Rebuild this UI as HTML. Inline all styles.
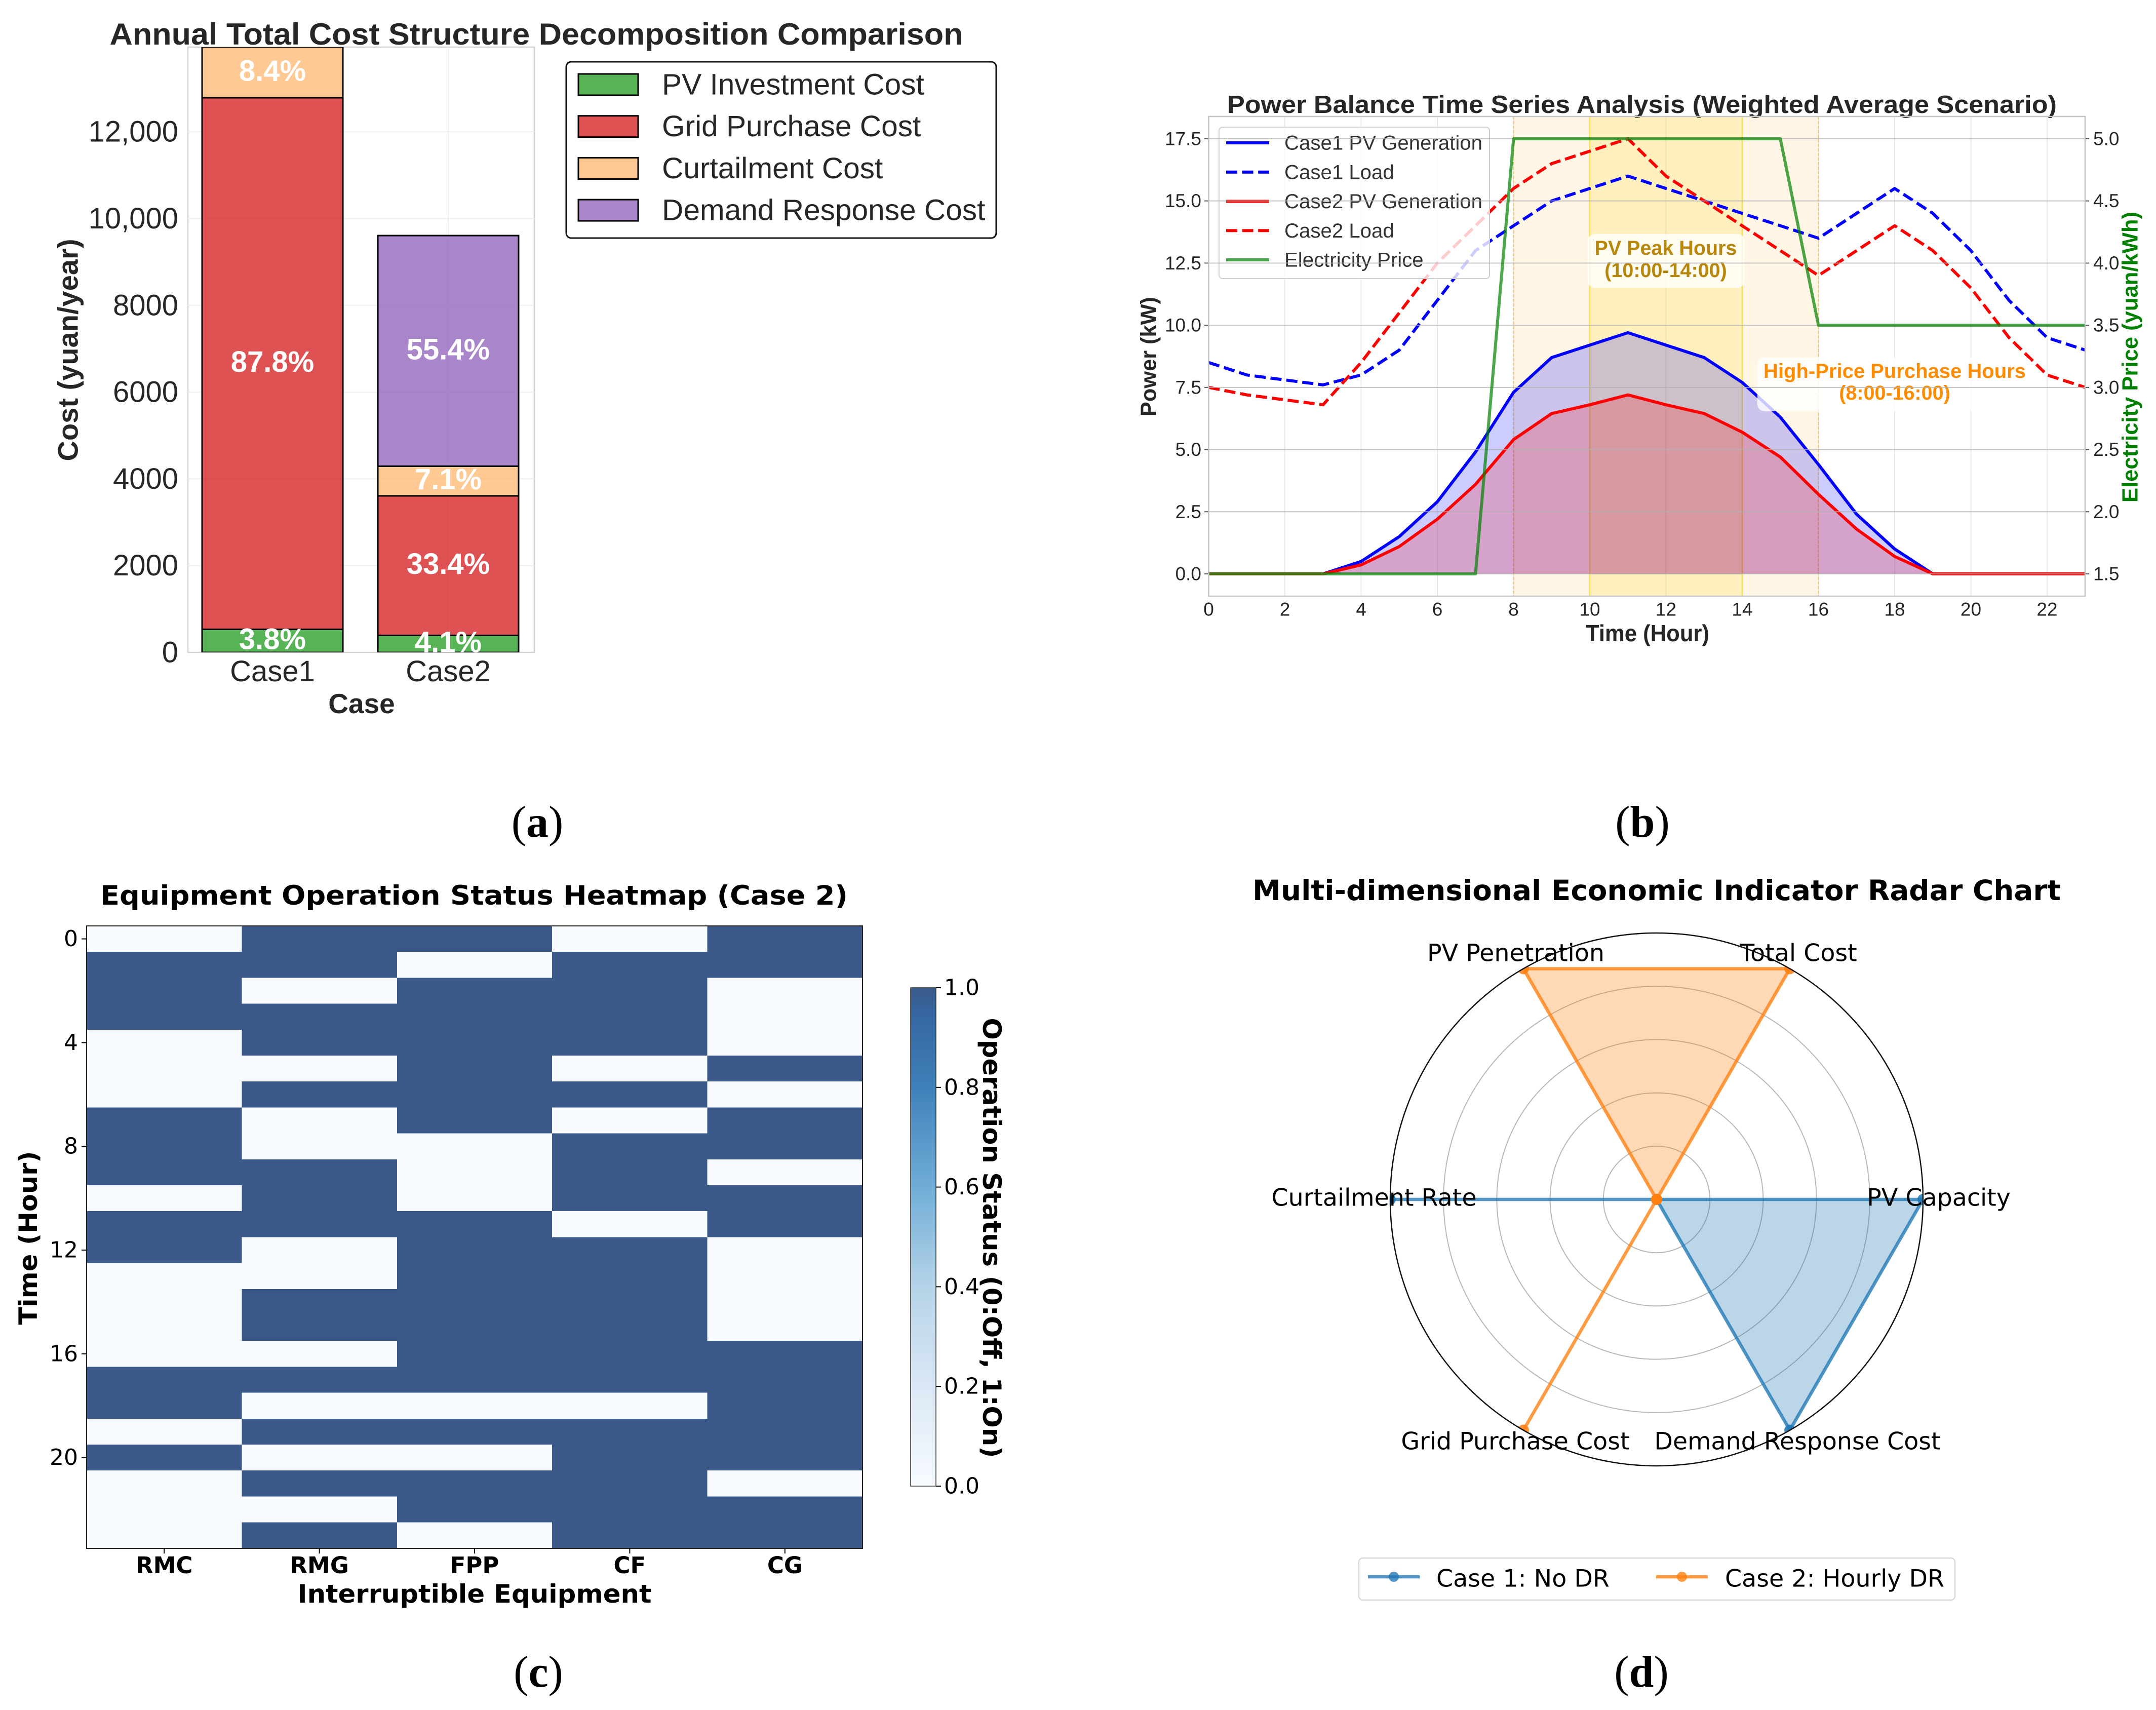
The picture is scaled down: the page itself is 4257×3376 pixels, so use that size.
<!DOCTYPE html>
<html lang="en">
<head>
<meta charset="utf-8">
<title>Four panel energy economics chart</title>
<style>
html,body{margin:0;padding:0;background:#fff;width:4257px;height:3376px;overflow:hidden}
svg{display:block}
.sans{font-family:"Liberation Sans",sans-serif}
.dv{font-family:"DejaVu Sans",sans-serif}
.serif{font-family:"Liberation Serif",serif}
</style>
</head>
<body>
<svg id="figure" xmlns="http://www.w3.org/2000/svg" width="4257" height="3376" viewBox="0 0 4257 3376">
<defs>
<clipPath id="clipA"><rect x="371" y="93" width="684" height="1195"/></clipPath>
<clipPath id="clipD"><circle cx="3271" cy="2368" r="526"/></clipPath>
<linearGradient id="cbGrad" x1="0" y1="1" x2="0" y2="0">
<stop offset="0" stop-color="#f7fbff"/><stop offset="0.2" stop-color="#dbe8f5"/><stop offset="0.4" stop-color="#b5d3e8"/><stop offset="0.6" stop-color="#6fadd6"/><stop offset="0.8" stop-color="#3f80ba"/><stop offset="0.95" stop-color="#3566a0"/><stop offset="1" stop-color="#3b5a8a"/>
</linearGradient>
</defs>
<rect x="0" y="0" width="4257" height="3376" fill="#fff"/>

<g id="panelA" class="sans">
<text x="1059" y="88" font-size="60" font-weight="bold" fill="#262626" text-anchor="middle" textLength="1685" lengthAdjust="spacingAndGlyphs">Annual Total Cost Structure Decomposition Comparison</text>
<text x="714" y="1408" font-size="55" font-weight="bold" fill="#262626" text-anchor="middle">Case</text>
<text transform="translate(134 691) rotate(-90)" font-size="56" font-weight="bold" fill="#262626" text-anchor="middle" dominant-baseline="central" textLength="439" lengthAdjust="spacingAndGlyphs">Cost (yuan/year)</text>
</g>
<g id="panelB" class="sans">
<text x="3242" y="223" font-size="49" font-weight="bold" fill="#262626" text-anchor="middle" textLength="1638" lengthAdjust="spacingAndGlyphs">Power Balance Time Series Analysis (Weighted Average Scenario)</text>
<text x="3131" y="1266" font-size="46" font-weight="bold" fill="#262626" textLength="244" lengthAdjust="spacingAndGlyphs">Time (Hour)</text>
<text transform="translate(2268 822) rotate(-90)" font-size="44" font-weight="bold" fill="#262626" dominant-baseline="central" textLength="236" lengthAdjust="spacingAndGlyphs">Power (kW)</text>
<text transform="translate(4206 992) rotate(-90)" font-size="44" font-weight="bold" fill="#008000" dominant-baseline="central" textLength="574" lengthAdjust="spacingAndGlyphs">Electricity Price (yuan/kWh)</text>
</g>
<g id="panelC" class="dv">
<text x="936" y="1786" font-size="53" font-weight="bold" fill="#000" text-anchor="middle" textLength="1476" lengthAdjust="spacingAndGlyphs">Equipment Operation Status Heatmap (Case 2)</text>
<text x="937" y="3164" font-size="50" font-weight="bold" fill="#000" text-anchor="middle" textLength="699" lengthAdjust="spacingAndGlyphs">Interruptible Equipment</text>
<text transform="translate(56 2444) rotate(-90)" font-size="50" font-weight="bold" fill="#000" text-anchor="middle" dominant-baseline="central" textLength="343" lengthAdjust="spacingAndGlyphs">Time (Hour)</text>
</g>
<g id="panelD" class="dv">
<text x="3271" y="1777" font-size="55" font-weight="bold" fill="#000" text-anchor="middle" textLength="1596" lengthAdjust="spacingAndGlyphs">Multi-dimensional Economic Indicator Radar Chart</text>
</g>
<text class="serif" x="1061" y="1652" font-size="88" fill="#000" text-anchor="middle">(<tspan font-weight="bold">a</tspan>)</text>
<text class="serif" x="3243" y="1652" font-size="88" fill="#000" text-anchor="middle">(<tspan font-weight="bold">b</tspan>)</text>
<text class="serif" x="1063" y="3330" font-size="88" fill="#000" text-anchor="middle">(<tspan font-weight="bold">c</tspan>)</text>
<text class="serif" x="3241" y="3330" font-size="88" fill="#000" text-anchor="middle">(<tspan font-weight="bold">d</tspan>)</text>
</svg>
<script>
/* ---------- panel (a) data ---------- */
const costCases = ['Case1', 'Case2'];
const costNames = ['PV Investment Cost', 'Grid Purchase Cost', 'Curtailment Cost', 'Demand Response Cost'];
const costCase1 = [532, 12253, 1172, 0];
const costCase2 = [392, 3216, 683, 5317];
const costPctCase1 = ['3.8%', '87.8%', '8.4%', ''];
const costPctCase2 = ['4.1%', '33.4%', '7.1%', '55.4%'];
const costColors = ['#2ca02c', '#d62728', '#ffbb78', '#9467bd'];
const costTicks = [0, 2000, 4000, 6000, 8000, 10000, 12000];
const costTickLabels = ['0', '2000', '4000', '6000', '8000', '10,000', '12,000'];

/* ---------- panel (b) data ---------- */
const hours = [0,1,2,3,4,5,6,7,8,9,10,11,12,13,14,15,16,17,18,19,20,21,22,23];
const case1Pv = [0,0,0,0,0.5,1.5,2.9,4.9,7.3,8.7,9.2,9.7,9.2,8.7,7.7,6.3,4.4,2.4,1.0,0,0,0,0,0];
const case2Pv = [0,0,0,0,0.36,1.1,2.2,3.6,5.4,6.45,6.8,7.2,6.8,6.45,5.7,4.7,3.2,1.8,0.7,0,0,0,0,0];
const case1Load = [8.5,8,7.8,7.6,8,9,11,13,14,15,15.5,16,15.5,15,14.5,14,13.5,14.5,15.5,14.5,13,11,9.5,9];
const case2Load = [7.5,7.2,7,6.8,8.5,10.5,12.5,14,15.5,16.5,17,17.5,16,15,14,13,12,13,14,13,11.5,9.5,8,7.5];
const priceSeries = [1.5,1.5,1.5,1.5,1.5,1.5,1.5,1.5,5,5,5,5,5,5,5,5,3.5,3.5,3.5,3.5,3.5,3.5,3.5,3.5];
const powerTicks = [0,2.5,5,7.5,10,12.5,15,17.5];
const powerTickLabels = ['0.0','2.5','5.0','7.5','10.0','12.5','15.0','17.5'];
const priceTicks = [1.5,2,2.5,3,3.5,4,4.5,5];
const priceTickLabels = ['1.5','2.0','2.5','3.0','3.5','4.0','4.5','5.0'];
const hourTicks = [0,2,4,6,8,10,12,14,16,18,20,22];
const powerLegend = ['Case1 PV Generation','Case1 Load','Case2 PV Generation','Case2 Load','Electricity Price'];
const highPriceHours = [8, 16];
const peakHours = [10, 14];

/* ---------- panel (c) data ---------- */
const equipment = ['RMC','RMG','FPP','CF','CG'];
const statusRMC = [0,1,1,1,0,0,0,1,1,1,0,1,1,0,0,0,0,1,1,0,1,0,0,0];
const statusRMG = [1,1,0,1,1,0,1,0,0,1,1,1,0,0,1,1,0,1,0,1,0,1,0,1];
const statusFPP = [1,0,1,1,1,1,1,1,0,0,0,1,1,1,1,1,1,1,0,1,0,1,1,0];
const statusCF  = [0,1,1,1,1,0,1,0,1,1,1,0,1,1,1,1,1,1,0,1,1,1,1,1];
const statusCG  = [1,1,0,0,0,1,0,1,1,0,1,1,0,0,0,0,1,1,1,1,1,0,1,1];
const heatTimeTicks = [0,4,8,12,16,20];
const colorbarTicks = [0,0.2,0.4,0.6,0.8,1];
const colorbarTickLabels = ['0.0','0.2','0.4','0.6','0.8','1.0'];

/* ---------- panel (d) data ---------- */
const radarLabels = ['PV Capacity','Total Cost','PV Penetration','Curtailment Rate','Grid Purchase Cost','Demand Response Cost'];
const radarCase1 = [1,0,0,1,0,1];
const radarCase2 = [0,1,1,0,1,0];
const radarRings = [0.2,0.4,0.6,0.8];
const radarLegend = ['Case 1: No DR','Case 2: Hourly DR'];

/* ---------- helpers ---------- */
const NS = 'http://www.w3.org/2000/svg';
function mk(tag, parent, attrs) {
  const e = document.createElementNS(NS, tag);
  for (const k in attrs) e.setAttribute(k, attrs[k]);
  parent.appendChild(e);
  return e;
}
function tx(parent, str, attrs) {
  const e = mk('text', parent, attrs);
  e.textContent = str;
  return e;
}
const panelA = document.getElementById('panelA');
const panelB = document.getElementById('panelB');
const panelC = document.getElementById('panelC');
const panelD = document.getElementById('panelD');

/* ---------- panel (a) ---------- */
const xA = i => 538 + i * 347;
const yA = v => 1288 - v * 0.08565;
const barHalf = 139;
{
  const frame = mk('rect', panelA, {x:371, y:93, width:684, height:1195, fill:'none', stroke:'#d4d4d4', 'stroke-width':2.5});
  
  
  costTicks.forEach((v, i) => {
    if (v > 0) {
      const g = mk('line', panelA, {x1:371, x2:1055, y1:yA(v), y2:yA(v), stroke:'#efefef', 'stroke-width':2});
      
      
    }
    const t = tx(panelA, costTickLabels[i], {x:352, y:yA(v), 'font-size':58, fill:'#262626', 'text-anchor':'end', 'dominant-baseline':'central'});
    
    
  });
  const vg = mk('line', panelA, {x1:885, x2:885, y1:93, y2:1288, stroke:'#efefef', 'stroke-width':2});
  
  
  const bars = mk('g', panelA, {'clip-path':'url(#clipA)'});
  
  
  const series = [costCase1, costCase2];
  const pcts = [costPctCase1, costPctCase2];
  series.forEach((vals, c) => {
    let base = 0;
    vals.forEach((v, s) => {
      if (v > 0) {
        const r = mk('rect', bars, {x:xA(c)-barHalf, y:yA(base+v), width:barHalf*2, height:yA(base)-yA(base+v), fill:costColors[s], 'fill-opacity':0.8, stroke:'#000', 'stroke-width':3});
        
        
      }
      base += v;
    });
  });
  series.forEach((vals, c) => {
    let base = 0;
    vals.forEach((v, s) => {
      if (v > 0) {
        const p = tx(panelA, pcts[c][s], {x:xA(c), y:yA(base + v/2) - 3, 'font-size':58, 'font-weight':'bold', fill:'#fff', 'text-anchor':'middle', 'dominant-baseline':'central'});
        
        
      }
      base += v;
    });
  });
  costCases.forEach((n, c) => {
    const t = tx(panelA, n, {x:xA(c), y:1345, 'font-size':58, fill:'#262626', 'text-anchor':'middle'});
    
    
  });
  const box = mk('rect', panelA, {x:1118, y:122, width:849, height:348, rx:10, fill:'#fff', stroke:'#111', 'stroke-width':3});
  
  
  costNames.forEach((n, i) => {
    const yy = 167 + i * 82.7;
    const sw = mk('rect', panelA, {x:1142, y:yy-21, width:118, height:42, fill:costColors[i], 'fill-opacity':0.8, stroke:'#000', 'stroke-width':3});
    
    
    const t = tx(panelA, n, {x:1307, y:yy, 'font-size':58.6, fill:'#262626', 'dominant-baseline':'central'});
    
    
  });
}

/* ---------- panel (b) ---------- */
const xB = h => 2386.5 + h * 75.25;
const yB = v => 1133 - v * 49.09;
const yP = v => 1133 - (v - 1.5) * 245.43;
function polyPts(xs, ys) { return xs.map((h, i) => xB(h).toFixed(1) + ',' + yB(ys[i]).toFixed(1)).join(' '); }
{
  const plot = mk('g', panelB, {});
  
  
  hourTicks.forEach(h => {
    const g = mk('line', plot, {x1:xB(h), x2:xB(h), y1:230, y2:1177, stroke:'#eaeaea', 'stroke-width':2});
    
    
    const t = tx(panelB, String(h), {x:xB(h), y:1203, 'font-size':37, fill:'#262626', 'text-anchor':'middle', 'dominant-baseline':'central'});
    
    
  });
  const band1 = mk('rect', plot, {x:xB(highPriceHours[0]), y:230, width:xB(highPriceHours[1])-xB(highPriceHours[0]), height:947, fill:'#ffa500', 'fill-opacity':0.1, stroke:'none'});
  
  
  const band2 = mk('rect', plot, {x:xB(peakHours[0]), y:230, width:xB(peakHours[1])-xB(peakHours[0]), height:947, fill:'#ffd700', 'fill-opacity':0.17, stroke:'none'});
  
  
  highPriceHours.forEach(h => {
    const l = mk('line', plot, {x1:xB(h), x2:xB(h), y1:230, y2:1177, stroke:'#ffa500', 'stroke-opacity':0.45, 'stroke-width':2.5, 'stroke-dasharray':'6 3'});
    
    
  });
  peakHours.forEach(h => {
    const l = mk('line', plot, {x1:xB(h), x2:xB(h), y1:230, y2:1177, stroke:'#ffd700', 'stroke-opacity':0.6, 'stroke-width':2.5});
    
    
  });
  const areas = [[case1Pv, '#0000ff', 'case1-pv-fill'], [case2Pv, '#ff0000', 'case2-pv-fill']];
  areas.forEach(a => {
    const f = mk('polygon', plot, {points: xB(0) + ',' + yB(0) + ' ' + polyPts(hours, a[0]) + ' ' + xB(23) + ',' + yB(0), fill:a[1], 'fill-opacity':0.2, stroke:'none'});
    
    
  });
  const linesOut = [
    [case1Pv, '#0000ff', null, 'case1-pv-line'],
    [case1Load, '#0000ff', '22 9.6', 'case1-load-line'],
    [case2Pv, '#ff0000', null, 'case2-pv-line'],
    [case2Load, '#ff0000', '22 9.6', 'case2-load-line']
  ];
  linesOut.forEach(d => {
    const a = {points: polyPts(hours, d[0]), fill:'none', stroke:d[1], 'stroke-width':6, 'stroke-linejoin':'round'};
    if (d[2]) a['stroke-dasharray'] = d[2];
    const l = mk('polyline', plot, a);
    
    
  });
  const lgBox = mk('rect', plot, {x:2407, y:251, width:534, height:299, rx:7, fill:'#fff', 'fill-opacity':0.8, stroke:'#d0d0d0', 'stroke-width':2});
  
  
  const lgStroke = ['#0000ff','#0000ff','#ff0000','#ff0000','#008000'];
  const lgDash = [null,'22 9.6',null,'22 9.6',null];
  const lgOpacity = [1,1,1,1,0.7];
  powerLegend.forEach((n, i) => {
    const yy = 282 + i * 57.75;
    const a = {x1:2421, x2:2506, y1:yy, y2:yy, stroke:lgStroke[i], 'stroke-opacity':lgOpacity[i], 'stroke-width':6};
    if (lgDash[i]) a['stroke-dasharray'] = lgDash[i];
    const l = mk('line', plot, a);
    
    
    const t = tx(plot, n, {x:2536, y:yy, 'font-size':40.2, fill:'#333', 'dominant-baseline':'central'});
    
    
  });

  const b1 = mk('rect', plot, {x:3135, y:462, width:310, height:106, rx:14, fill:'#fff', 'fill-opacity':0.78});
  
  
  const a1 = tx(plot, 'PV Peak Hours', {x:3289, y:490, 'font-size':39.5, 'font-weight':'bold', fill:'#b8860b', 'text-anchor':'middle', 'dominant-baseline':'central'});
  
  
  const a2 = tx(plot, '(10:00-14:00)', {x:3289, y:534, 'font-size':39.5, 'font-weight':'bold', fill:'#b8860b', 'text-anchor':'middle', 'dominant-baseline':'central'});
  
  
  const b2 = mk('rect', plot, {x:3470, y:706, width:542, height:106, rx:14, fill:'#fff', 'fill-opacity':0.78});
  
  
  const a3 = tx(plot, 'High-Price Purchase Hours', {x:3741, y:733, 'font-size':40, 'font-weight':'bold', fill:'#ff8c00', 'text-anchor':'middle', 'dominant-baseline':'central'});
  
  
  const a4 = tx(plot, '(8:00-16:00)', {x:3741, y:776, 'font-size':39.5, 'font-weight':'bold', fill:'#ff8c00', 'text-anchor':'middle', 'dominant-baseline':'central'});
  
  

  powerTicks.forEach((v, i) => {
    const g = mk('line', plot, {x1:2386, x2:4117, y1:yB(v), y2:yB(v), stroke:'#b0b0b0', 'stroke-opacity':0.75, 'stroke-width':2});
    
    
    const tm = mk('line', plot, {x1:2378, x2:2386, y1:yB(v), y2:yB(v), stroke:'#555', 'stroke-width':2});
    
    
    const t = tx(panelB, powerTickLabels[i], {x:2372, y:yB(v), 'font-size':37, fill:'#262626', 'text-anchor':'end', 'dominant-baseline':'central'});
    
    
  });
  priceTicks.forEach((v, i) => {
    const tm = mk('line', plot, {x1:4117, x2:4125, y1:yP(v), y2:yP(v), stroke:'#555', 'stroke-width':2});
    
    
    const t = tx(panelB, priceTickLabels[i], {x:4133, y:yP(v), 'font-size':37, fill:'#262626', 'dominant-baseline':'central'});
    
    
  });
  const price = mk('polyline', plot, {points: hours.map((h, i) => xB(h).toFixed(1) + ',' + yP(priceSeries[i]).toFixed(1)).join(' '), fill:'none', stroke:'#008000', 'stroke-opacity':0.7, 'stroke-width':6, 'stroke-linejoin':'round'});
  
  
  const frame = mk('rect', plot, {x:2386.5, y:230, width:1730.5, height:947, fill:'none', stroke:'#c4c4c4', 'stroke-width':2.5});
  
  
}

/* ---------- panel (c) ---------- */
const xC = i => 171 + i * 306.4;
const yC = i => 1828 + i * 51.2;
const yCb = v => 2934 - v * 984;
{
  const columns = [statusRMC, statusRMG, statusFPP, statusCF, statusCG];
  const cells = mk('g', panelC, {'shape-rendering':'crispEdges'});
  
  
  columns.forEach((col, c) => {
    col.forEach((v, r) => {
      const cell = mk('rect', cells, {x:xC(c), y:yC(r), width:306.9, height:51.7, fill: v ? '#3b5a8a' : '#f7fbff'});
      
      
    });
  });
  const frame = mk('rect', panelC, {x:171, y:1828, width:1532, height:1229, fill:'none', stroke:'#222', 'stroke-width':2});
  
  
  equipment.forEach((n, c) => {
    const tm = mk('line', panelC, {x1:xC(c+0.5), x2:xC(c+0.5), y1:3057, y2:3067, stroke:'#000', 'stroke-width':2});
    
    
    const t = tx(panelC, n, {x:xC(c+0.5), y:3106, 'font-size':45, 'font-weight':'bold', fill:'#000', 'text-anchor':'middle'});
    
    
  });
  heatTimeTicks.forEach(h => {
    const tm = mk('line', panelC, {x1:161, x2:171, y1:yC(h+0.5), y2:yC(h+0.5), stroke:'#000', 'stroke-width':2});
    
    
    const t = tx(panelC, String(h), {x:154, y:yC(h+0.5), 'font-size':44, fill:'#000', 'text-anchor':'end', 'dominant-baseline':'central'});
    
    
  });
  const cb = mk('rect', panelC, {x:1798, y:1950, width:50, height:984, fill:'url(#cbGrad)', stroke:'#333', 'stroke-width':1.5});
  
  
  colorbarTicks.forEach((v, i) => {
    const tm = mk('line', panelC, {x1:1848, x2:1858, y1:yCb(v), y2:yCb(v), stroke:'#000', 'stroke-width':2});
    
    
    const t = tx(panelC, colorbarTickLabels[i], {x:1864, y:yCb(v), 'font-size':44, fill:'#000', 'dominant-baseline':'central'});
    
    
  });
  const cbl = tx(panelC, 'Operation Status (0:Off, 1:On)', {transform:'translate(1958 2444) rotate(90)', 'font-size':50, 'font-weight':'bold', fill:'#000', 'text-anchor':'middle', 'dominant-baseline':'central', textLength:869, lengthAdjust:'spacingAndGlyphs'});
  
  
}

/* ---------- panel (d) ---------- */
const cxD = 3271, cyD = 2368, rD = 526;
const angD = i => i * Math.PI / 3;
const xD = (i, v) => cxD + rD * v * Math.cos(angD(i));
const yD = (i, v) => cyD - rD * v * Math.sin(angD(i));
{
  radarRings.forEach(v => {
    const c = mk('circle', panelD, {cx:cxD, cy:cyD, r:rD*v, fill:'none', stroke:'#b8b8b8', 'stroke-width':2});
    
    
  });
  const marks = mk('g', panelD, {'clip-path':'url(#clipD)'});
  
  
  const seriesD = [[radarCase1, '#1f77b4', 'case1'], [radarCase2, '#ff7f0e', 'case2']];
  seriesD.forEach(s => {
    const pts = s[0].map((v, i) => xD(i, v).toFixed(1) + ',' + yD(i, v).toFixed(1)).join(' ');
    const poly = mk('polygon', marks, {points:pts, fill:s[1], 'fill-opacity':0.3, stroke:s[1], 'stroke-opacity':0.78, 'stroke-width':6.5, 'stroke-linejoin':'round'});
    
    
    s[0].forEach((v, i) => {
      const d = mk('circle', marks, {cx:xD(i, v), cy:yD(i, v), r:11, fill:s[1], 'fill-opacity':0.85});
      
      
    });
  });
  const outer = mk('circle', panelD, {cx:cxD, cy:cyD, r:rD, fill:'none', stroke:'#111', 'stroke-width':2.5});
  
  
  const labelCx = [3828, 3551, 2993, 2713, 2992, 3549];
  const labelCy = [2365, 1882, 1882, 2365, 2846, 2846];
  radarLabels.forEach((n, i) => {
    const t = tx(panelD, n, {x:labelCx[i], y:labelCy[i], 'font-size':47.5, fill:'#000', 'text-anchor':'middle', 'dominant-baseline':'central'});
    
    
  });
  const box = mk('rect', panelD, {x:2683, y:3076, width:1177, height:83, rx:8, fill:'#fff', stroke:'#d8d8d8', 'stroke-width':2.5});
  
  
  const lgX = [2701, 3270];
  const lgTx = [2836, 3406];
  const lgC = ['#1f77b4', '#ff7f0e'];
  radarLegend.forEach((n, i) => {
    const l = mk('line', panelD, {x1:lgX[i], x2:lgX[i]+102, y1:3113, y2:3113, stroke:lgC[i], 'stroke-opacity':0.78, 'stroke-width':6.5});
    
    
    const m = mk('circle', panelD, {cx:lgX[i]+51, cy:3113, r:10, fill:lgC[i], 'fill-opacity':0.78});
    
    
    const t = tx(panelD, n, {x:lgTx[i], y:3117, 'font-size':47.5, fill:'#000', 'dominant-baseline':'central'});
    
    
  });
}
</script>
</body>
</html>
